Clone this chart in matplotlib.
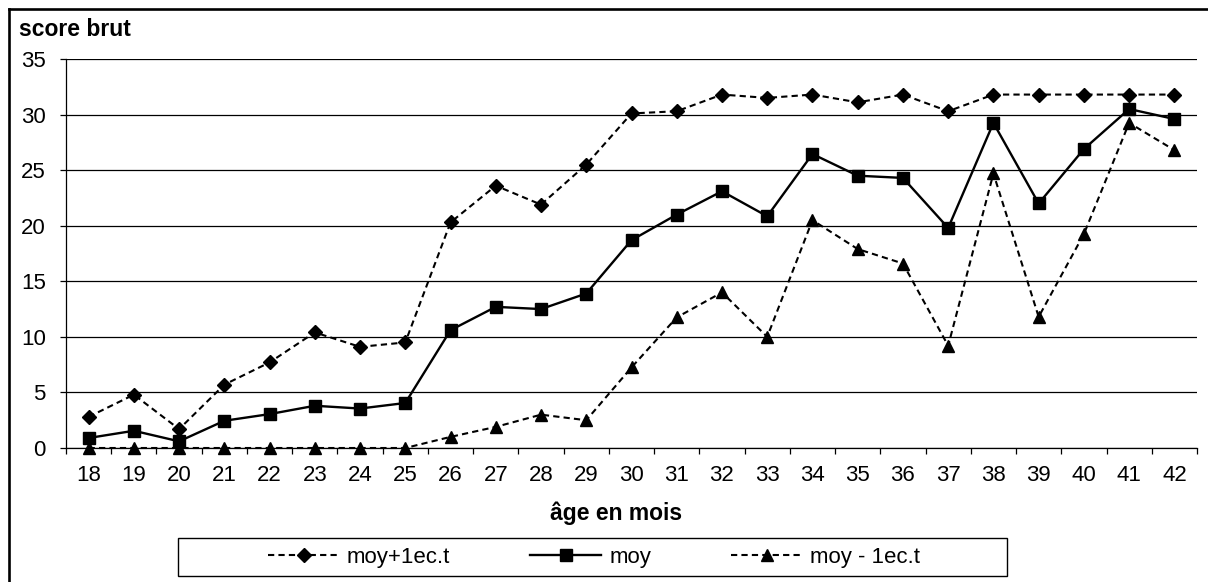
import numpy as np
import matplotlib
matplotlib.use('Agg')
import matplotlib.pyplot as plt
from matplotlib.lines import Line2D
from matplotlib.patches import Rectangle

plt.rcParams['font.family'] = ['Liberation Sans', 'DejaVu Sans']

ages = list(range(18, 43))
moy_plus = [2.8, 4.8, 1.7, 5.7, 7.7, 10.4, 9.1, 9.5, 20.3, 23.6, 21.9, 25.5,
            30.1, 30.3, 31.8, 31.5, 31.8, 31.1, 31.8, 30.3, 31.8, 31.8, 31.8, 31.8, 31.8]
moy = [0.9, 1.55, 0.6, 2.45, 3.05, 3.8, 3.55, 4.05, 10.6, 12.7, 12.5, 13.9,
       18.7, 21.0, 23.1, 20.85, 26.45, 24.5, 24.3, 19.8, 29.25, 22.0, 26.9, 30.5, 29.6]
moy_minus = [0, 0, 0, 0, 0, 0, 0, 0, 1.0, 1.9, 3.0, 2.5,
             7.25, 11.75, 14.0, 10.0, 20.5, 17.9, 16.6, 9.2, 24.7, 11.8, 19.25, 29.25, 26.8]
labels = ['moy+1ec.t', 'moy', 'moy - 1ec.t']

W, H = 1208, 582
fig = plt.figure(figsize=(W / 100, H / 100), dpi=100)
ax = fig.add_axes([66 / W, 1 - 448 / H, (1197 - 66) / W, (448 - 59) / H])

dash = (0, (3.0, 2.0))
ax.plot(ages, moy_plus, color='black', lw=1.5, ls=dash, marker='D', ms=7,
        label=labels[0], zorder=3)
ax.plot(ages, moy, color='black', lw=1.7, ls='-', marker='s', ms=8,
        label=labels[1], zorder=3)
ax.plot(ages, moy_minus, color='black', lw=1.5, ls=dash, marker='^', ms=9,
        label=labels[2], zorder=3, clip_on=False)

ax.set_xlim(17.5, 42.5)
ax.set_ylim(0, 35)
ax.set_yticks(np.arange(0, 36, 5))
ax.set_xticks(ages)
ax.set_xticks(np.arange(17.5, 43, 1), minor=True)
ax.tick_params(axis='x', which='major', length=0, pad=12, labelsize=16)
ax.tick_params(axis='x', which='minor', length=4.5, width=0.9, direction='out')
ax.tick_params(axis='y', length=4.5, width=0.9, direction='out', pad=10, labelsize=16)
ax.grid(axis='y', color='black', lw=0.9)
ax.set_axisbelow(True)
for s in ['top', 'right']:
    ax.spines[s].set_visible(False)
for s in ['left', 'bottom']:
    ax.spines[s].set_linewidth(0.9)

fig.text(19 / W, 1 - 29 / H, 'score brut', fontsize=16.5, fontweight='bold', va='center', ha='left')
fig.text(616 / W, 1 - 513 / H, 'âge en mois', fontsize=16.5, fontweight='bold', va='center', ha='center')

# legend box
fig.patches.append(Rectangle((178 / W, 1 - 576 / H), (1007 - 178) / W, (576 - 538) / H,
                             transform=fig.transFigure, fill=False, ec='black', lw=1.0))
leg = fig.legend(loc='center left', bbox_to_anchor=(268 / W, 1 - 557 / H), ncol=3,
                 frameon=False, fontsize=16, handlelength=3.2, handletextpad=0.35,
                 columnspacing=3.6, borderpad=0, borderaxespad=0)

# outer border (left and top only visible)
fig.add_artist(Line2D([8.5 / W, 8.5 / W], [0, 1 - 8.5 / H], transform=fig.transFigure,
                      color='black', lw=1.9))
fig.add_artist(Line2D([8.5 / W, 1], [1 - 8.5 / H, 1 - 8.5 / H], transform=fig.transFigure,
                      color='black', lw=1.9))

fig.savefig('out.png', dpi=100)
